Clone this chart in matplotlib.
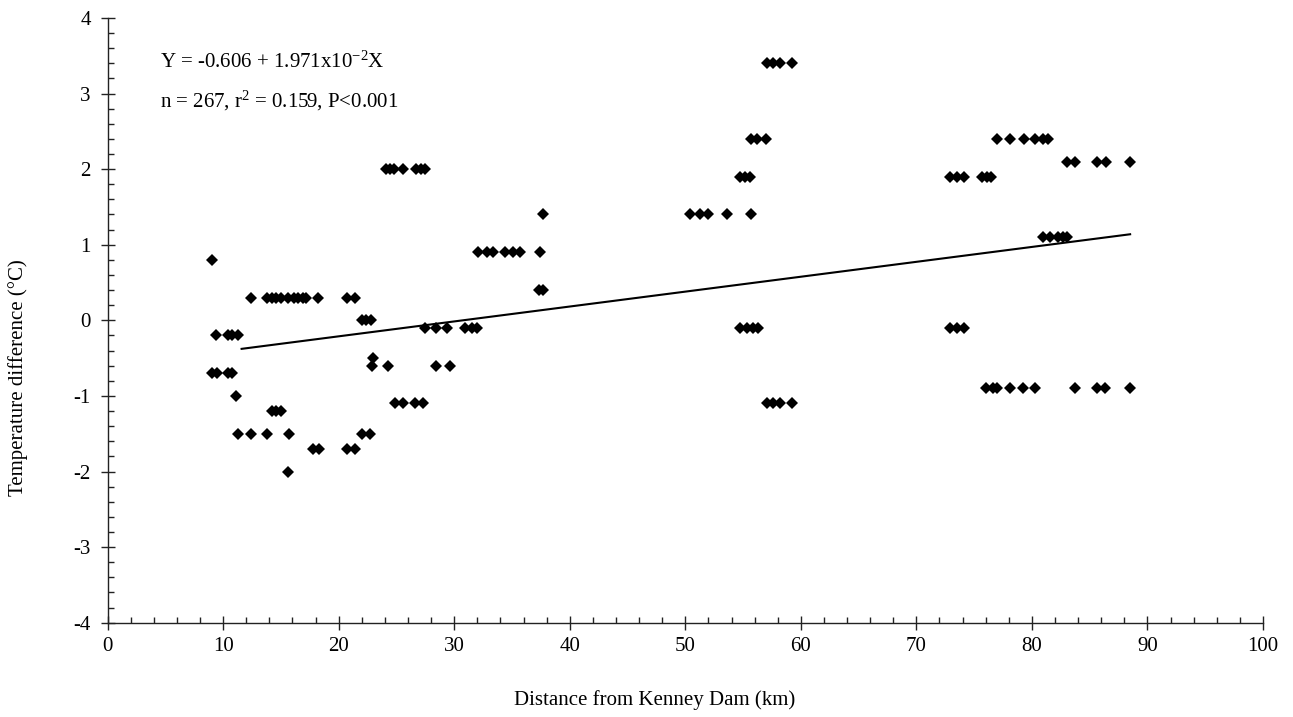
import numpy as np
import matplotlib
matplotlib.use('Agg')
import matplotlib.pyplot as plt
from matplotlib.ticker import MultipleLocator

plt.rcParams['font.family'] = ['Liberation Serif', 'DejaVu Serif']
plt.rcParams['mathtext.fontset'] = 'custom'
plt.rcParams['mathtext.rm'] = 'Liberation Serif'
plt.rcParams['mathtext.it'] = 'Liberation Serif:italic'
plt.rcParams['axes.unicode_minus'] = False

# Temperature difference (deg C) vs distance downstream of Kenney Dam (km), grouped by level
dist_08 = [9.07]
dist_03 = [12.4, 13.8, 14.2, 14.6, 15.0, 15.6, 16.1, 16.5, 16.9, 17.2, 18.2, 20.7, 21.4]
dist_m02 = [9.4, 10.4, 10.8, 11.3]
dist_m07 = [9.0, 9.45, 10.4, 10.8]
dist_m10 = [11.1]
dist_m12 = [14.2, 14.6, 15.0]
dist_m15 = [11.3, 12.4, 13.8, 15.7, 22.0, 22.7]
dist_m17 = [17.8, 18.3, 20.7, 21.4]
dist_m20 = [15.65]
dist_00 = [22.0, 22.4, 22.8]
dist_m05 = [23.0]
dist_m06 = [22.9, 24.3, 28.4, 29.6]
dist_m11 = [24.9, 25.6, 26.6, 27.3, 57.1, 57.6, 58.2, 59.2]
dist_m01 = [27.5, 28.4, 29.4, 30.9, 31.5, 32.0, 54.7, 55.3, 55.9, 56.3, 72.9, 73.5, 74.1]
dist_20 = [24.1, 24.4, 24.8, 25.6, 26.7, 27.1, 27.5]
dist_09 = [32.1, 32.8, 33.4, 34.4, 35.1, 35.7, 37.4]
dist_14 = [37.7, 50.4, 51.3, 52.0, 53.6, 55.7]
dist_04 = [37.3, 37.7]
dist_19 = [54.7, 55.2, 55.6, 72.9, 73.5, 74.1, 75.7, 76.1, 76.5]
dist_24 = [55.7, 56.2, 57.0, 77.0, 78.1, 79.3, 80.3, 81.0, 81.4]
dist_34 = [57.1, 57.6, 58.2, 59.2]
dist_11 = [81.0, 81.6, 82.3, 82.7, 83.0]
dist_21 = [83.0, 83.75, 85.6, 86.4, 88.5]
dist_m09 = [76.0, 76.6, 77.0, 78.1, 79.2, 80.3, 83.75, 85.6, 86.3, 88.5]

groups = [
    (dist_08, 0.8), (dist_03, 0.3), (dist_m02, -0.2), (dist_m07, -0.7),
    (dist_m10, -1.0), (dist_m12, -1.2), (dist_m15, -1.5), (dist_m17, -1.7),
    (dist_m20, -2.0), (dist_00, 0.0), (dist_m05, -0.5), (dist_m06, -0.6),
    (dist_m11, -1.1), (dist_m01, -0.1), (dist_20, 2.0), (dist_09, 0.9),
    (dist_14, 1.4), (dist_04, 0.4), (dist_19, 1.9), (dist_24, 2.4),
    (dist_34, 3.4), (dist_11, 1.1), (dist_21, 2.1), (dist_m09, -0.9),
]

x = np.concatenate([np.array(d, dtype=float) for d, _ in groups])
y = np.concatenate([np.full(len(d), v) for d, v in groups])

# regression line
intercept = -0.606
slope = 1.971e-2
fit_x = np.array([11.6, 88.5])
fit_y = intercept + slope * fit_x

fig = plt.figure(figsize=(12.93, 7.17), dpi=100)
ax = fig.add_axes([0.0832, 0.1315, 0.8936, 0.8435])

ax.plot(fit_x, fit_y, color='black', lw=1.5, zorder=2)
ax.plot(x, y, 'D', color='black', ms=6.5, mew=0, zorder=3)

ax.set_xlim(0, 100)
ax.set_ylim(-4, 4)
ax.xaxis.set_major_locator(MultipleLocator(10))
ax.xaxis.set_minor_locator(MultipleLocator(2))
ax.yaxis.set_major_locator(MultipleLocator(1))
ax.yaxis.set_minor_locator(MultipleLocator(0.2))

for side in ['top', 'right']:
    ax.spines[side].set_visible(False)
for side in ['left', 'bottom']:
    ax.spines[side].set_linewidth(1.0)
    ax.spines[side].set_color('#222222')

ax.tick_params(which='major', direction='inout', length=10, width=1.0,
               labelsize=15, color='#222222')
ax.tick_params(axis='y', which='major', pad=7)
ax.tick_params(axis='x', which='major', pad=5)
ax.tick_params(which='minor', direction='in', length=4, width=1.0, color='#222222')

fig.text(655 / 1293, 1 - 700 / 717, 'Distance from Kenney Dam (km)', fontsize=15,
         ha='center', va='center')
fig.text(18 / 1293, 1 - 378 / 717, 'Temperature difference (°C)', fontsize=15,
         ha='center', va='center', rotation=90)

ax.text(4.5, 3.42, 'Y = -0.606 + 1.971x10$^{\\mathrm{-2}}$X', fontsize=15,
        ha='left', va='center')
ax.text(4.5, 2.9, 'n = 267, r$^{\\mathrm{2}}$ = 0.159, P<0.001', fontsize=15,
        ha='left', va='center')

fig.savefig('out.png', dpi=100)
